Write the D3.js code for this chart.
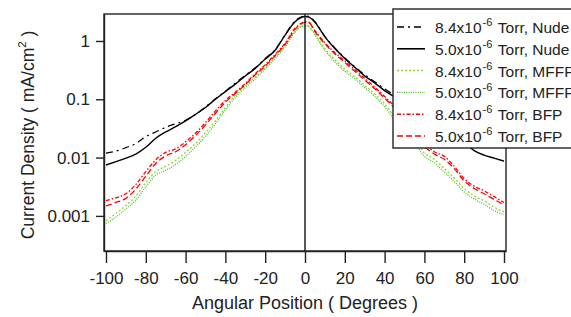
<!DOCTYPE html>
<html><head><meta charset="utf-8">
<script src="https://cdn.jsdelivr.net/npm/d3@7"></script>
<style>
body{margin:0;background:#fff}
svg{display:block;font-family:Arial,"Liberation Sans",sans-serif}
</style>
</head><body>
<svg id="c" width="571" height="317"></svg>
<script>
// ---------- data ----------
const angles = [-100,-95,-90,-85,-80,-75,-70,-65,-60,-55,-50,-45,-40,-35,-30,-25,-20,-15,-10,-5,-2,0,2,5,10,15,20,25,30,35,40,45,50,55,60,65,70,75,80,85,90,95,100];

const nude84 = [0.0119,0.0129,0.0148,0.0174,0.0229,0.0275,0.0331,0.0380,0.0437,0.0550,0.0741,0.102,0.138,0.191,0.257,0.347,0.501,0.708,1.29,2.19,2.57,2.69,2.63,2.14,1.20,0.759,0.513,0.363,0.263,0.200,0.151,0.117,0.0912,0.0724,0.0575,0.0457,0.0363,0.0295,0.0240,0.0200,0.0174,0.0158,0.0148];
const nude50 = [0.00746,0.00851,0.00977,0.0115,0.0150,0.0215,0.0275,0.0339,0.0427,0.0550,0.0724,0.100,0.135,0.182,0.251,0.339,0.490,0.692,1.26,2.14,2.51,2.63,2.57,2.09,1.175,0.741,0.501,0.355,0.251,0.191,0.141,0.110,0.0851,0.0661,0.0513,0.0398,0.0309,0.0240,0.0182,0.0132,0.0110,0.00977,0.00871];
const mffp84 = [0.000832,0.00110,0.00151,0.00219,0.00372,0.00575,0.00708,0.00891,0.0123,0.0174,0.0269,0.0427,0.0724,0.117,0.170,0.240,0.347,0.525,0.832,1.48,1.78,1.86,1.78,1.32,0.741,0.479,0.331,0.245,0.174,0.123,0.0832,0.0501,0.0316,0.0200,0.0120,0.00933,0.00646,0.00447,0.00295,0.00219,0.00182,0.00141,0.00117];
const mffp50 = [0.000741,0.000955,0.00132,0.00186,0.00316,0.00501,0.00603,0.00759,0.0105,0.0151,0.0234,0.0380,0.0661,0.107,0.158,0.224,0.331,0.501,0.794,1.41,1.74,1.82,1.74,1.26,0.692,0.437,0.302,0.224,0.158,0.112,0.0741,0.0447,0.0282,0.0178,0.0105,0.00813,0.00562,0.00389,0.00257,0.00195,0.00158,0.00123,0.00105];
const bfp84 = [0.00182,0.00204,0.00240,0.00347,0.00575,0.00912,0.0123,0.0141,0.0186,0.0263,0.0398,0.0631,0.0955,0.132,0.186,0.275,0.389,0.589,0.912,1.66,2.00,2.14,2.09,1.51,0.933,0.631,0.457,0.324,0.229,0.162,0.112,0.0759,0.0501,0.0316,0.0174,0.0126,0.0105,0.00708,0.00437,0.00324,0.00269,0.00214,0.00170];
const bfp50 = [0.00148,0.00170,0.00200,0.00288,0.00479,0.00794,0.0107,0.0126,0.0166,0.0240,0.0363,0.0575,0.0891,0.126,0.178,0.263,0.372,0.562,0.871,1.58,1.95,2.09,2.04,1.45,0.891,0.603,0.427,0.302,0.214,0.151,0.105,0.0708,0.0468,0.0295,0.0158,0.0115,0.00933,0.00646,0.00398,0.00295,0.00240,0.00191,0.00155];

const seriesPressure = ["8.4","5.0","8.4","5.0","8.4","5.0"];
const seriesDevice   = ["Nude","Nude","MFFP","MFFP","BFP","BFP"];
const seriesValues   = [nude84, nude50, mffp84, mffp50, bfp84, bfp50];

const xTickValues = [-100,-80,-60,-40,-20,0,20,40,60,80,100];
const xTickLabels = ["-100","-80","-60","-40","-20","0","20","40","60","80","100"];
const yTickValues = [1,0.1,0.01,0.001];
const yTickLabels = ["1","0.1","0.01","0.001"];

// ---------- styles ----------
const styles = [
  {color:"#000000", dash:"7,4,2,4", w:1.2},
  {color:"#000000", dash:null,      w:1.4},
  {color:"#8fd62e", dash:"2,2",     w:1.3},
  {color:"#3cc21a", dash:"1,1.3",   w:1.2},
  {color:"#ff0000", dash:"4,2,1.5,2", w:1.3},
  {color:"#ff0000", dash:"6,3",     w:1.3}
];

const svg = d3.select("#c");
const L = 104, R = 506, T = 14, B = 251;

const x = d3.scaleLinear().domain([-101, 101]).range([L, R]);
const y = d3.scaleLog().domain([2.5e-4, 2.9]).range([B, T]);

// curves
const line = d3.line()
  .x((d,i)=>x(angles[i]))
  .y(d=>y(d))
  .curve(d3.curveMonotoneX);

const gCurves = svg.append("g");
[3,2,5,4,1,0].forEach(k=>{
  gCurves.append("path")
    .attr("d", line(seriesValues[k]))
    .attr("fill","none")
    .attr("stroke", styles[k].color)
    .attr("stroke-width", styles[k].w)
    .attr("stroke-dasharray", styles[k].dash);
});

// zero line
svg.append("line")
  .attr("x1", x(0)).attr("x2", x(0))
  .attr("y1", T).attr("y2", B)
  .attr("stroke","#222").attr("stroke-width",1.5);

// frame
svg.append("rect")
  .attr("x", L).attr("y", T).attr("width", R-L).attr("height", B-T)
  .attr("fill","none").attr("stroke","#222").attr("stroke-width",1.4);

const FONT = "Arial, 'Liberation Sans', sans-serif";

// x axis
const xAxis = d3.axisBottom(x).tickValues(xTickValues)
  .tickFormat((d,i)=>xTickLabels[i]).tickSize(12).tickSizeOuter(0).tickPadding(9);
const gx = svg.append("g").attr("transform",`translate(0,${B})`).call(xAxis);
gx.select(".domain").attr("stroke","#222").attr("stroke-width",1.4);
gx.selectAll(".tick line").attr("stroke","#222").attr("stroke-width",1.4);
gx.selectAll(".tick text").attr("font-size",17).attr("fill","#222").attr("font-family",FONT);

// y axis
const yAxis = d3.axisLeft(y).tickValues(yTickValues)
  .tickFormat((d,i)=>yTickLabels[i]).tickSize(8).tickSizeOuter(0).tickPadding(6);
const gy = svg.append("g").attr("transform",`translate(${L},0)`).call(yAxis);
gy.select(".domain").attr("stroke","#222").attr("stroke-width",1.4);
gy.selectAll(".tick line").attr("stroke","#222").attr("stroke-width",1.4);
gy.selectAll(".tick text").attr("font-size",17).attr("fill","#222").attr("font-family",FONT);

// axis titles
svg.append("text")
  .attr("x", x(0)).attr("y", 309)
  .attr("text-anchor","middle").attr("font-size",18).attr("fill","#222")
  .text("Angular Position ( Degrees )");

const yt = svg.append("text")
  .attr("transform","translate(34,135) rotate(-90)")
  .attr("text-anchor","middle").attr("font-size",17.5).attr("fill","#222");
yt.append("tspan").text("Current Density ( mA/cm");
yt.append("tspan").attr("font-size",11.5).attr("dy",-8).text("2");
yt.append("tspan").attr("dy",8).text(" )");

// legend
const lg = svg.append("g");
lg.append("rect").attr("x",393).attr("y",9).attr("width",200).attr("height",139)
  .attr("fill","#fff").attr("stroke","#222").attr("stroke-width",1.4);
seriesValues.forEach((s,i)=>{
  const by = 33 + 21.8*i;
  lg.append("line").attr("x1",397).attr("x2",425).attr("y1",by-6).attr("y2",by-6)
    .attr("stroke",styles[i].color).attr("stroke-width",styles[i].w+0.2)
    .attr("stroke-dasharray",styles[i].dash);
  const t = lg.append("text").attr("x",435).attr("y",by).attr("font-size",15.5).attr("fill","#222");
  t.append("tspan").text(seriesPressure[i]+"x10");
  t.append("tspan").attr("font-size",11).attr("dx",1).attr("dy",-7).text("-6");
  t.append("tspan").attr("dx",1.5).attr("dy",7).text(" Torr, "+seriesDevice[i]);
});
</script>
</body></html>
